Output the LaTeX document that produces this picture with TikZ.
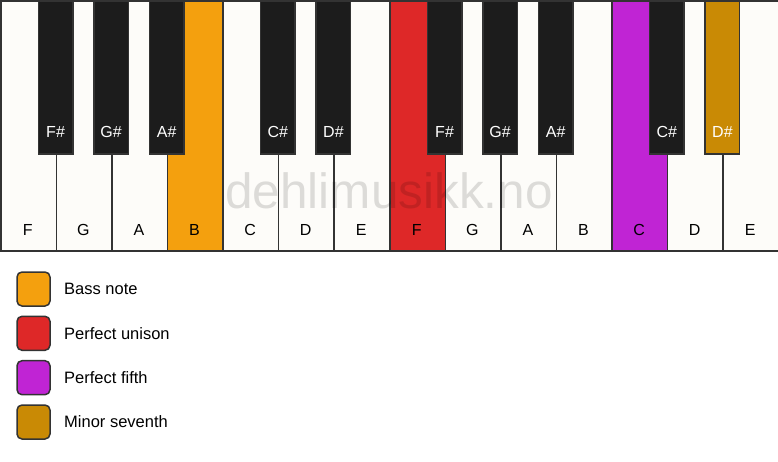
\documentclass[tikz,border=0pt]{standalone}
\usepackage{fontspec}
\setmainfont{Liberation Sans}
\definecolor{keywhite}{HTML}{FDFCF9}
\definecolor{keyline}{HTML}{333333}
\definecolor{keyblack}{HTML}{1C1C1C}
\definecolor{bassc}{HTML}{F4A00E}
\definecolor{unisonc}{HTML}{DE2828}
\definecolor{fifthc}{HTML}{C024D4}
\definecolor{seventhc}{HTML}{C98A05}
\begin{document}
\begin{tikzpicture}[x=1pt,y=-1pt,
  wkey/.style={draw=keyline, line width=1.5pt, minimum width=55.5714pt, minimum height=250pt, inner sep=0pt, anchor=north west},
  bkey/.style={draw=keyline, line width=1.5pt, minimum width=34.5pt, minimum height=153pt, inner sep=0pt, anchor=north},
  wlab/.style={font=\fontsize{16}{16}\selectfont, text=black, inner sep=0pt},
  blab/.style={font=\fontsize{16}{16}\selectfont, text=white, inner sep=0pt},
  legbox/.style={draw=keyline, line width=1.5pt, rounded corners=5pt, minimum width=33pt, minimum height=34pt, inner sep=0pt},
  legtext/.style={font=\fontsize{16.5}{16.5}\selectfont, anchor=west, inner sep=0pt}]
\useasboundingbox (0,0) rectangle (778,461);
\def\W{55.5714}
\foreach \i/\n/\c in {0/F/keywhite,1/G/keywhite,2/A/keywhite,3/B/bassc,4/C/keywhite,5/D/keywhite,6/E/keywhite,7/F/unisonc,8/G/keywhite,9/A/keywhite,10/B/keywhite,11/C/fifthc,12/D/keywhite,13/E/keywhite}{
  \node[wkey, fill=\c] (w\i) at (\i*\W,0) {};
  \node[wlab] (wl\i) at (\i*\W+\W/2,230) {\n};
}
\foreach \b/\n/\c in {1/F/keyblack,2/G/keyblack,3/A/keyblack,5/C/keyblack,6/D/keyblack,8/F/keyblack,9/G/keyblack,10/A/keyblack,12/C/keyblack,13/D/seventhc}{
  \node[bkey, fill=\c] (b\b) at (\b*\W,0) {};
  \node[blab] (bl\b) at (\b*\W,132) {\n\#};
}
\node[font=\fontsize{49.5}{49.5}\selectfont, text=black, opacity=0.13, inner sep=0pt] (wm) at (389,191) {dehlimusikk.no};
\node[legbox, fill=bassc] (l1) at (33.5,289) {};
\node[legtext] (t1) at (64,289) {Bass note};
\node[legbox, fill=unisonc] (l2) at (33.5,333.3) {};
\node[legtext] (t2) at (64,333.3) {Perfect unison};
\node[legbox, fill=fifthc] (l3) at (33.5,377.7) {};
\node[legtext] (t3) at (64,377.7) {Perfect fifth};
\node[legbox, fill=seventhc] (l4) at (33.5,422) {};
\node[legtext] (t4) at (64,422) {Minor seventh};
\end{tikzpicture}
\end{document}
